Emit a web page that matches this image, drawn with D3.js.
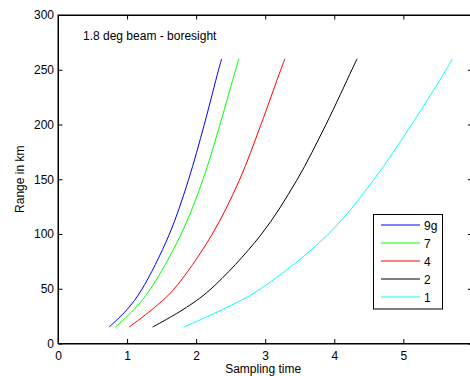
<!DOCTYPE html>
<html>
<head>
<meta charset="utf-8">
<script src="https://cdn.jsdelivr.net/npm/d3@7"></script>
<style>
  html, body { margin: 0; padding: 0; background: #fff; overflow: hidden; }
  svg { display: block; }
  text { font-family: "Liberation Sans", Arial, sans-serif; fill: #000; }
</style>
</head>
<body>
<svg id="chart" width="470" height="376"></svg>
<script>
// ---- data ----
const title = "1.8 deg beam - boresight";
const xLabel = "Sampling time";
const yLabel = "Range in km";
const xTicks = [0, 1, 2, 3, 4, 5, 6];
const xTickLabels = ["0", "1", "2", "3", "4", "5", ""];
const yTicks = [0, 50, 100, 150, 200, 250, 300];
const yTickLabels = ["0", "50", "100", "150", "200", "250", "300"];
const seriesNames = ["9g", "7", "4", "2", "1"];
const seriesColors = ["#0000ff", "#00ff00", "#ff0000", "#000000", "#00ffff"];
const rangeKm = [15, 31, 49, 99, 149, 200, 250, 260];
const time9g = [0.74, 1.00, 1.21, 1.607, 1.887, 2.118, 2.325, 2.37];
const time7  = [0.83, 1.10, 1.33, 1.776, 2.095, 2.345, 2.572, 2.62];
const time4  = [1.03, 1.36, 1.67, 2.225, 2.625, 2.939, 3.225, 3.285];
const time2  = [1.37, 1.81, 2.20, 2.935, 3.456, 3.88, 4.255, 4.33];
const time1  = [1.82, 2.38, 2.91, 3.90, 4.565, 5.12, 5.62, 5.71];
const seriesTimes = [time9g, time7, time4, time2, time1];

(function () {
// ---- layout ----
const svg = d3.select("#chart");
const mLeft = 58, mRight = 472.4, mTop = 15, mBottom = 343.5;
const x = d3.scaleLinear().domain([0, 6]).range([mLeft, mRight]);
const y = d3.scaleLinear().domain([0, 300]).range([mBottom, mTop]);

// frame
svg.append("rect").attr("x", mLeft).attr("y", mTop)
  .attr("width", mRight - mLeft).attr("height", mBottom - mTop)
  .attr("fill", "#fff").attr("stroke", "#000").attr("stroke-width", 1);

const tickLen = 4.5;
const xAxisB = svg.append("g").attr("transform", `translate(0,${mBottom})`)
  .call(d3.axisBottom(x).tickValues(xTicks).tickSizeInner(-tickLen).tickSizeOuter(0).tickPadding(8)
    .tickFormat((d, i) => xTickLabels[i]));
const xAxisT = svg.append("g").attr("transform", `translate(0,${mTop})`)
  .call(d3.axisTop(x).tickValues(xTicks).tickSizeInner(-tickLen).tickSizeOuter(0).tickFormat(""));
const yAxisL = svg.append("g").attr("transform", `translate(${mLeft},0)`)
  .call(d3.axisLeft(y).tickValues(yTicks).tickSizeInner(-tickLen).tickSizeOuter(0).tickPadding(8)
    .tickFormat((d, i) => yTickLabels[i]));
const yAxisR = svg.append("g").attr("transform", `translate(${mRight},0)`)
  .call(d3.axisRight(y).tickValues(yTicks).tickSizeInner(-tickLen).tickSizeOuter(0).tickFormat(""));

[xAxisB, xAxisT, yAxisL, yAxisR].forEach(g => {
  g.select(".domain").attr("stroke", "#000").attr("stroke-width", 1);
  g.selectAll(".tick line").attr("stroke", "#000");
  g.selectAll(".tick text").attr("font-size", 12).attr("fill", "#000")
    .attr("font-family", "Liberation Sans, Arial, sans-serif");
});
yAxisL.selectAll(".tick text").attr("dx", 4);

// series lines
const line = d3.line()
  .x(d => x(d[0])).y(d => y(d[1]))
  .curve(d3.curveCatmullRom.alpha(0.5));
seriesTimes.forEach((times, i) => {
  const pts = times.map((t, j) => [t, rangeKm[j]]);
  svg.append("path").datum(pts)
    .attr("d", line)
    .attr("fill", "none")
    .attr("stroke", seriesColors[i])
    .attr("stroke-width", 1);
});

// title (inside axes)
svg.append("text").attr("x", 83).attr("y", 40)
  .attr("font-size", 12).text(title);

// axis labels
svg.append("text").attr("x", (mLeft + mRight) / 2 - 2).attr("y", 373)
  .attr("text-anchor", "middle").attr("font-size", 12).text(xLabel);
svg.append("text")
  .attr("transform", `translate(24,${(mTop + mBottom) / 2}) rotate(-90)`)
  .attr("text-anchor", "middle").attr("font-size", 12).text(yLabel);

// legend
const lg = svg.append("g");
lg.append("rect").attr("x", 373.5).attr("y", 214.5).attr("width", 69).attr("height", 94.5)
  .attr("fill", "#fff").attr("stroke", "#000").attr("stroke-width", 1);
seriesNames.forEach((name, i) => {
  const yy = 225 + i * 18;
  lg.append("line").attr("x1", 381).attr("x2", 420).attr("y1", yy).attr("y2", yy)
    .attr("stroke", seriesColors[i]).attr("stroke-width", 1);
  lg.append("text").attr("x", 424).attr("y", yy + 4.5)
    .attr("font-size", 12).text(name);
});
})();
</script>
</body>
</html>
